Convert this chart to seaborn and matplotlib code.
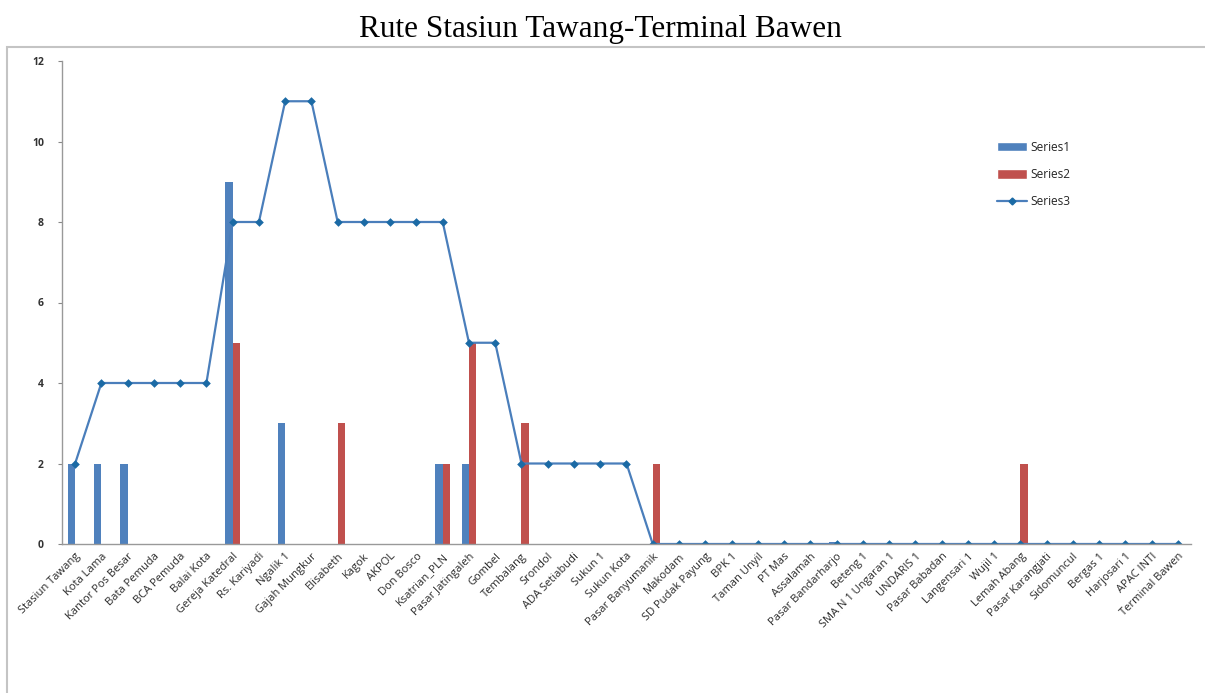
import matplotlib
matplotlib.use("Agg")
import matplotlib.pyplot as plt
from matplotlib.patches import Patch, Rectangle
from matplotlib.lines import Line2D
import seaborn as sns
import pandas as pd
import numpy as np

categories = ["Stasiun Tawang", "Kota Lama", "Kantor Pos Besar", "Bata Pemuda", "BCA Pemuda",
              "Balai Kota", "Gereja Katedral", "Rs. Kariyadi", "Ngalik 1", "Gajah Mungkur",
              "Elisabeth", "Kagok", "AKPOL", "Don Bosco", "Ksatrian_PLN", "Pasar Jatingaleh",
              "Gombel", "Tembalang", "Srondol", "ADA Setiabudi", "Sukun 1", "Sukun Kota",
              "Pasar Banyumanik", "Makodam", "SD Pudak Payung", "BPK 1", "Taman Unyil", "PT Mas",
              "Assalamah", "Pasar Bandarharjo", "Beteng 1", "SMA N 1 Ungaran 1", "UNDARIS 1",
              "Pasar Babadan", "Langensari 1", "Wujil 1", "Lemah Abang", "Pasar Karangjati",
              "Sidomuncul", "Bergas 1", "Harjosari 1", "APAC INTI", "Terminal Bawen"]

series1 = [2, 2, 2, 0, 0, 0, 9, 0, 3, 0, 0, 0, 0, 0, 2, 2, 0, 0, 0, 0, 0, 0,
           0, 0, 0, 0, 0, 0, 0, 0.05, 0, 0, 0, 0, 0, 0, 0, 0, 0, 0, 0, 0, 0]
series2 = [0, 0, 0, 0, 0, 0, 5, 0, 0, 0, 3, 0, 0, 0, 2, 5, 0, 3, 0, 0, 0, 0,
           2, 0, 0, 0, 0, 0, 0, 0, 0, 0, 0, 0, 0, 0, 2, 0, 0, 0, 0, 0, 0]
series3 = [2, 4, 4, 4, 4, 4, 8, 8, 11, 11, 8, 8, 8, 8, 8, 5, 5, 2, 2, 2, 2, 2,
           0, 0, 0, 0, 0, 0, 0, 0, 0, 0, 0, 0, 0, 0, 0, 0, 0, 0, 0, 0, 0]
series_names = ["Series1", "Series2", "Series3"]
yticks = [0, 2, 4, 6, 8, 10, 12]

c1, c2, c3, cm = "#4F81BD", "#C0504D", "#4A7EBB", "#1B6AA5"

bars = pd.DataFrame({
    "cat": categories * 2,
    "value": series1 + series2,
    "series": [series_names[0]] * len(categories) + [series_names[1]] * len(categories),
})

sns.set_style("white")
plt.rcParams["font.family"] = ["Open Sans", "DejaVu Sans"]

fig = plt.figure(figsize=(12.05, 6.93), dpi=100)
ax = fig.add_axes([62 / 1205, 1 - 544 / 693, (1191 - 62) / 1205, (544 - 61) / 693])

sns.barplot(data=bars, x="cat", y="value", hue="series", order=categories,
            hue_order=series_names[:2], palette=[c1, c2], width=0.55,
            saturation=1, legend=False, ax=ax, errorbar=None, linewidth=0)
sns.pointplot(x=categories, y=series3, order=categories, color=c3, markers="D",
              markersize=3.2, linewidth=1.6, ax=ax, errorbar=None)
for ln in ax.lines:
    ln.set_markerfacecolor(cm)
    ln.set_markeredgecolor(cm)

ax.set_xlim(-0.5, len(categories) - 0.5)
ax.set_ylim(0, 12)
ax.set_yticks(yticks)
ax.set_yticklabels([str(v) for v in yticks], fontsize=7.5, fontweight="bold", color="#333333")
ax.set_xticks(range(len(categories)))
ax.set_xticklabels(categories, rotation=45, ha="right", rotation_mode="anchor",
                   fontsize=8, color="#2a2a2a")
ax.set_xticks(np.arange(-0.5, len(categories), 1), minor=True)
ax.tick_params(axis="x", which="major", length=0, pad=5)
ax.tick_params(axis="x", which="minor", length=4, color="#888888", direction="out")
ax.tick_params(axis="y", length=3, color="#888888", direction="out", pad=10, left=True)
ax.set_xlabel("")
ax.set_ylabel("")
for s in ["top", "right"]:
    ax.spines[s].set_visible(False)
for s in ["left", "bottom"]:
    ax.spines[s].set_color("#999999")
    ax.spines[s].set_linewidth(1.0)

handles = [Patch(facecolor=c1, label=series_names[0]),
           Patch(facecolor=c2, label=series_names[1]),
           Line2D([0], [0], color=c3, marker="D", markersize=3.5, markerfacecolor=cm,
                  markeredgecolor=cm, lw=1.6, label=series_names[2])]
fig.legend(handles=handles, loc="upper left", bbox_to_anchor=(986 / 1205, 1 - 130 / 693),
           frameon=False, fontsize=8.6, labelspacing=1.2, handlelength=2.5,
           handleheight=0.8, handletextpad=0.35)

fig.patches.append(Rectangle((7 / 1205, -0.01), 1.0, 1 - 47 / 693 + 0.01,
                             transform=fig.transFigure, fill=False,
                             edgecolor="#C4C4C4", linewidth=1.5))

fig.text(600 / 1205, 1 - 30 / 693, "Rute Stasiun Tawang-Terminal Bawen",
         family="Liberation Serif", fontsize=22.5, ha="center", va="center", color="black")

fig.savefig("out.png", dpi=100)
